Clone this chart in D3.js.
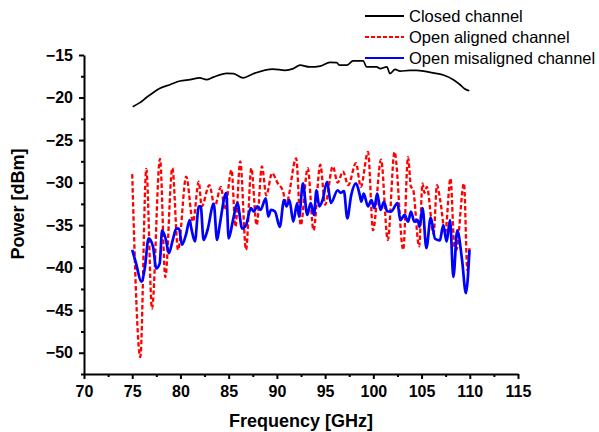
<!DOCTYPE html>
<html>
<head>
<meta charset="utf-8">
<script src="https://cdn.jsdelivr.net/npm/d3@7"></script>
<style>
  body { margin: 0; background: #fff; }
  svg { display: block; font-family: Arial, "Liberation Sans", sans-serif; }
  .axis path, .axis line { stroke: #000; stroke-width: 2; }
  .axis text { font-size: 16px; font-weight: bold; fill: #000; }
</style>
</head>
<body>
<script>
// Closed channel (black)
const closedFreq = [75.05, 75.8, 76.5, 77.2, 77.88, 78.9, 79.95, 81.0, 82.0, 82.7, 83.4, 84.8, 85.5, 86.5, 87.55,
  89.6, 90.84, 91.7, 92.4, 93.4, 94.5, 95.5, 96.2, 96.5, 97.24, 97.9, 98.96, 99.3, 100.35, 100.7, 101.4,
  101.73, 102.25, 102.77, 103.8, 104.5, 106.2, 107.25, 108.3, 109.0, 109.5, 109.95];
const closedPower = [-21.08, -20.6, -19.97, -19.4, -18.9, -18.5, -18.06, -17.9, -17.7, -17.9, -17.6, -17.15, -17.2, -17.7, -17.2,
  -16.65, -16.8, -16.6, -16.2, -16.4, -16.3, -15.86, -15.9, -16.2, -16.2, -15.7, -15.7, -16.4, -16.4, -16.6, -16.4,
  -17.2, -16.7, -16.9, -16.8, -16.8, -17.1, -17.35, -17.9, -18.5, -19.0, -19.2];

// Open aligned channel (red dashed)
const alignedFreq = [75.0, 75.84, 76.46, 77.05, 77.88, 78.43, 79.16, 79.75, 80.6, 81.3, 81.9, 82.2, 83.0, 83.55,
  84.2, 84.6, 85.3, 85.7, 86.2, 86.8, 87.35, 87.9, 88.45, 88.9, 89.5, 90.1, 90.6, 90.98, 92.0, 92.47, 93.2,
  93.8, 94.5, 95.0, 95.8, 96.3, 96.85, 97.4, 98.2, 98.7, 99.45, 99.97, 100.8, 101.5, 102.2, 103.1, 103.6,
  103.9, 104.1, 104.75, 105.1, 105.3, 105.55, 106.25, 106.6, 106.95, 107.45, 108.0, 108.4, 108.6, 109.4,
  109.75, 109.97];
const alignedPower = [-29.0, -50.5, -28.4, -44.8, -27.2, -41.1, -28.3, -37.9, -29.3, -34.6, -29.9, -32.8, -30.3, -32.8,
  -30.5, -33.2, -28.5, -35.2, -27.5, -37.9, -28.3, -35.0, -28.1, -31.5, -28.9, -30.1, -30.9, -32.4, -27.15, -35.0, -28.3,
  -35.6, -27.9, -32.6, -28.1, -30.0, -28.7, -30.3, -27.7, -30.5, -26.4, -35.6, -27.3, -36.75, -26.4, -37.9, -27.0,
  -30.5, -30.7, -37.5, -30.1, -31.2, -30.5, -36.0, -30.3, -32.2, -35.9, -29.5, -37.5, -37.9, -30.1,
  -40.3, -37.7];

// Open misaligned channel (blue)
const misalignedFreq = [75.0, 75.4, 75.94, 76.3, 76.7, 77.15, 77.5, 77.85, 78.1, 78.5, 78.8, 79.2, 79.57, 79.85,
  80.16, 80.6, 80.95, 81.1, 81.5, 81.9, 82.1, 82.4, 82.8, 83.45, 83.8, 84.07, 84.75, 85.0, 85.45, 85.9, 86.4,
  86.8, 87.3, 87.6, 87.97, 88.3, 88.85, 89.1, 89.4, 89.8, 90.3, 90.74, 91.0, 91.3, 91.7, 92.1, 92.3, 92.7,
  93.15, 93.5, 93.85, 94.1, 94.4, 94.75, 95.2, 95.6, 96.3, 96.6, 96.95, 97.3, 97.7, 98.2, 98.6, 98.75, 99.0,
  99.45, 99.8, 100.1, 100.4, 100.75, 101.1, 101.45, 101.85, 102.5, 102.8, 103.25, 103.6, 103.9, 104.25, 104.6,
  104.8, 105.1, 105.5, 105.95, 106.4, 106.9, 107.25, 107.6, 107.95, 108.3, 108.7, 109.2, 109.6, 109.97];
const misalignedPower = [-37.9, -39.5, -41.65, -40.1, -36.55, -37.5, -40.1, -39.5, -35.6, -36.75, -38.3, -36.75, -35.4, -35.4,
  -37.3, -36.0, -34.4, -35.2, -36.9, -32.8, -32.8, -36.75, -35.6, -32.5, -36.75, -35.0, -31.2, -36.55, -34.4, -32.4, -35.4,
  -35.0, -33.0, -33.4, -32.8, -33.2, -31.85, -34.0, -33.2, -33.4, -35.2, -32.05, -32.8, -32.05, -34.6, -32.4, -34.0, -30.1,
  -33.8, -32.4, -33.8, -30.9, -32.8, -32.0, -29.9, -32.4, -30.9, -31.2, -31.0, -34.2, -31.5, -30.1, -31.5, -32.25, -31.3,
  -32.8, -32.05, -33.0, -31.3, -33.2, -32.25, -33.4, -33.4, -32.4, -34.4, -33.8, -34.6, -33.4, -34.6, -34.4,
  -35.2, -33.0, -37.7, -34.1, -36.6, -36.8, -35.0, -36.95, -34.4, -41.1, -35.6, -39.1, -43.0, -37.9];

const xTicks = [70, 75, 80, 85, 90, 95, 100, 105, 110, 115];
const yTicks = [-15, -20, -25, -30, -35, -40, -45, -50];
const seriesNames = ["Closed channel", "Open aligned channel", "Open misaligned channel"];

const width = 599, height = 432;

const svg = d3.select("body").append("svg")
  .attr("width", width)
  .attr("height", height);

const x = d3.scaleLinear().domain([70, 115]).range([84, 518]);
const y = d3.scaleLinear().domain([-52.5, -15]).range([374, 55]);

// minor ticks
svg.append("g")
  .attr("class", "axis")
  .attr("transform", "translate(0,374)")
  .call(d3.axisBottom(x).tickValues(xTicks.slice(0, -1).map(v => v + 2.5)).tickSize(3).tickFormat("").tickSizeOuter(0))
  .select(".domain").remove();
svg.append("g")
  .attr("class", "axis")
  .attr("transform", "translate(84,0)")
  .call(d3.axisLeft(y).tickValues(yTicks.map(v => v - 2.5)).tickSize(3).tickFormat("").tickSizeOuter(0))
  .select(".domain").remove();

// major axes
svg.append("g")
  .attr("class", "axis")
  .attr("transform", "translate(0,374)")
  .call(d3.axisBottom(x).tickValues(xTicks).tickSize(5).tickPadding(7).tickSizeOuter(0));

svg.append("g")
  .attr("class", "axis")
  .attr("transform", "translate(84,0)")
  .call(d3.axisLeft(y).tickValues(yTicks).tickSize(5).tickPadding(6).tickSizeOuter(0));

// axis titles
svg.append("text")
  .attr("x", 301)
  .attr("y", 427)
  .attr("text-anchor", "middle")
  .style("font-size", "18px")
  .style("font-weight", "bold")
  .text("Frequency [GHz]");

svg.append("text")
  .attr("transform", "translate(24,204) rotate(-90)")
  .attr("text-anchor", "middle")
  .style("font-size", "18px")
  .style("font-weight", "bold")
  .text("Power [dBm]");

const line = d3.line()
  .x(d => x(d[0]))
  .y(d => y(d[1]))
  .curve(d3.curveMonotoneX);

const series = [
  { freq: closedFreq, power: closedPower, color: "#000", w: 1.7, dash: null },
  { freq: alignedFreq, power: alignedPower, color: "#ff0000", w: 2.3, dash: "4.5,2.5" },
  { freq: misalignedFreq, power: misalignedPower, color: "#0000ff", w: 2.7, dash: null }
];

series.forEach(s => {
  svg.append("path")
    .datum(d3.zip(s.freq, s.power))
    .attr("fill", "none")
    .attr("stroke", s.color)
    .attr("stroke-width", s.w)
    .attr("stroke-dasharray", s.dash)
    .attr("stroke-linejoin", "round")
    .attr("d", line);
});

// legend
const legend = svg.append("g");
series.forEach((s, i) => {
  const ly = 16 + i * 21;
  legend.append("line")
    .attr("x1", 365).attr("x2", 404)
    .attr("y1", ly).attr("y2", ly)
    .attr("stroke", s.color)
    .attr("stroke-width", 2)
    .attr("stroke-dasharray", s.dash ? "4,2" : null);
  legend.append("text")
    .attr("x", 409)
    .attr("y", ly)
    .attr("dy", "0.35em")
    .style("font-size", "16.5px")
    .text(seriesNames[i]);
});
</script>
</body>
</html>
